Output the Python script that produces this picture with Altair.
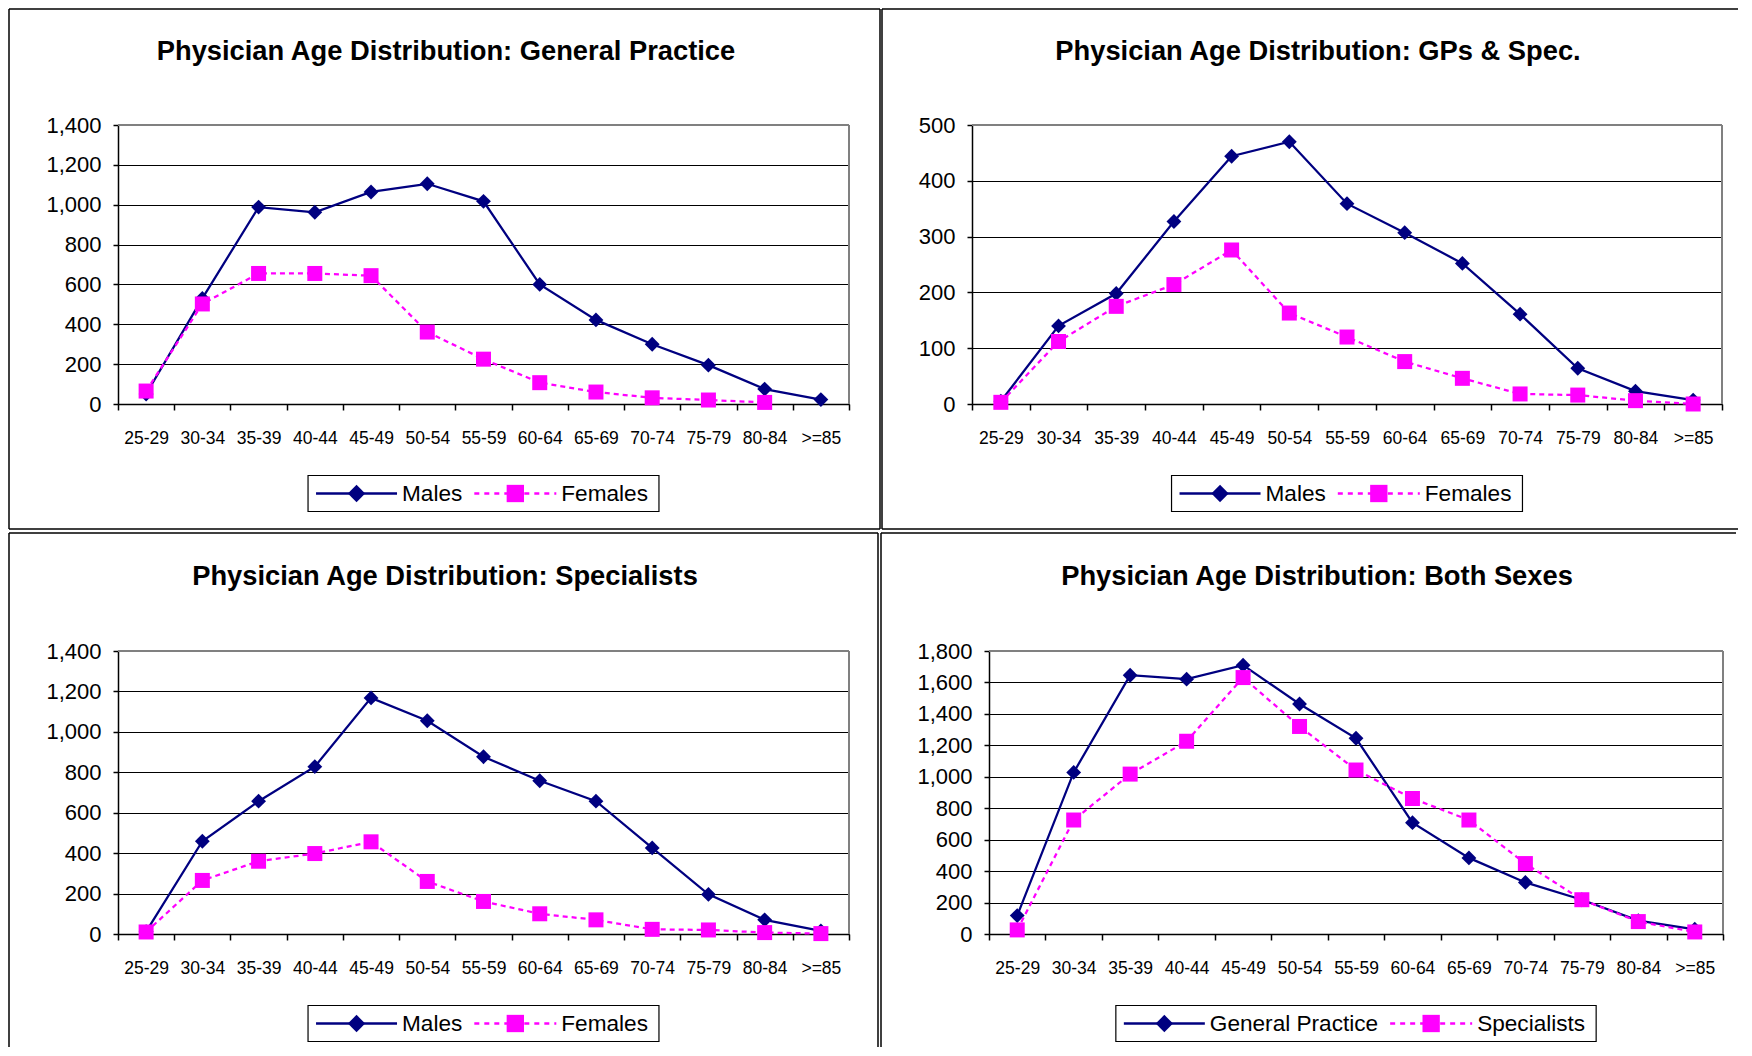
import altair as alt
import pandas as pd

# ---------------- data ----------------
AGES = ["25-29", "30-34", "35-39", "40-44", "45-49", "50-54", "55-59",
        "60-64", "65-69", "70-74", "75-79", "80-84", ">=85"]

TITLES = [
    "Physician Age Distribution: General Practice",
    "Physician Age Distribution: GPs & Spec.",
    "Physician Age Distribution: Specialists",
    "Physician Age Distribution: Both Sexes",
]
SEX_NAMES = ["Males", "Females"]
TYPE_NAMES = ["General Practice", "Specialists"]

gp_males = [50, 530, 988, 962, 1064, 1105, 1017, 600, 422, 300, 195, 75, 22]
gp_females = [65, 502, 655, 655, 644, 361, 225, 107, 60, 31, 20, 8, None]

both_males = [5, 140, 198, 327, 444, 470, 359, 307, 252, 161, 64, 23, 7]
both_females = [3, 112, 175, 214, 276, 163, 120, 76, 46, 18, 16, 6, 0]

spec_males = [12, 459, 657, 828, 1168, 1055, 877, 758, 657, 426, 196, 70, 15]
spec_females = [10, 265, 360, 398, 456, 260, 161, 100, 70, 23, 20, 7, 2]

all_gp = [117, 1028, 1646, 1621, 1710, 1463, 1245, 708, 484, 328, 218, 85, 30]
all_spec = [26, 725, 1017, 1226, 1631, 1320, 1043, 862, 725, 448, 218, 79, 13]

# ---------------- styling ----------------
NAVY = "#000080"
MAGENTA = "#FF00FF"
FONT = "Liberation Sans, Arial, sans-serif"
LEG_FS = 22.6

ARIAL_W = {"M": 833, "a": 556, "l": 222, "e": 556, "s": 500, "F": 611, "m": 833,
           "G": 778, "n": 556, "r": 333, " ": 278, "P": 667, "c": 500, "t": 278,
           "i": 222, "p": 556, "S": 667}


def text_w(s, size):
    return sum(ARIAL_W.get(ch, 556) for ch in s) / 1000.0 * size


def one(**kw):
    return pd.DataFrame({k: [v] for k, v in kw.items()} or {"k": [0]})


def panel(title, names, s1, s2, ymax, ystep, w, h, geo):
    df1 = pd.DataFrame({"age": AGES, "value": s1})
    df2 = pd.DataFrame({"age": AGES, "value": s2}).dropna()

    x = alt.X("age:N", sort=AGES, title=None,
              scale=alt.Scale(type="band", domain=AGES, paddingInner=0, paddingOuter=0),
              axis=alt.Axis(domainColor="black", domainWidth=1.5, tickColor="black",
                            tickWidth=1.5, tickSize=6, tickBand="extent",
                            labelFont=FONT, labelFontSize=17.5, labelColor="black",
                            labelBaseline="alphabetic", labelPadding=33, labelAngle=0,
                            labelOverlap=False, grid=False))
    y = alt.Y("value:Q", title=None,
              scale=alt.Scale(domain=[0, ymax], nice=False, zero=True),
              axis=alt.Axis(values=list(range(0, ymax + 1, ystep)), format=",d",
                            domainColor="black", domainWidth=1.5, tickColor="black",
                            tickWidth=1.5, tickSize=5, labelFont=FONT, labelFontSize=22,
                            labelColor="black", labelPadding=12, grid=True,
                            gridColor="black", gridWidth=1))

    layers = []
    # panel border (visible edges only)
    bl, br, bt, bb = geo["left"], geo.get("right"), geo["top"], geo.get("bottom")
    side_bottom = bb if bb is not None else geo["side_end"]
    top_x2 = br if br is not None else geo["top_end"]
    layers.append(alt.Chart(one()).mark_rule(color="black", strokeWidth=1.5).encode(
        x=alt.value(bl), y=alt.value(bt), y2=alt.value(side_bottom)))
    layers.append(alt.Chart(one()).mark_rule(color="black", strokeWidth=1.5).encode(
        x=alt.value(bl), x2=alt.value(top_x2), y=alt.value(bt)))
    if br is not None:
        layers.append(alt.Chart(one()).mark_rule(color="black", strokeWidth=1.5).encode(
            x=alt.value(br), y=alt.value(bt), y2=alt.value(side_bottom)))
    if bb is not None:
        layers.append(alt.Chart(one()).mark_rule(color="black", strokeWidth=1.5).encode(
            x=alt.value(bl), x2=alt.value(top_x2), y=alt.value(bb)))

    # title
    layers.append(alt.Chart(one(t=title)).mark_text(
        font=FONT, fontSize=27.3, fontWeight="bold", align="center",
        baseline="alphabetic", color="black").encode(
        x=alt.value(geo["tx"]), y=alt.value(geo["ty"]), text="t:N"))

    # data
    layers.append(alt.Chart(df1).mark_line(color=NAVY, strokeWidth=2.25).encode(x=x, y=y))
    layers.append(alt.Chart(df1).mark_point(shape="diamond", filled=True, size=220,
                                            color=NAVY, opacity=1).encode(x=x, y=y))
    layers.append(alt.Chart(df2).mark_line(color=MAGENTA, strokeWidth=2.25,
                                           strokeDash=[5, 4]).encode(x=x, y=y))
    layers.append(alt.Chart(df2).mark_point(shape="square", filled=True, size=225,
                                            color=MAGENTA, opacity=1).encode(x=x, y=y))

    # gray plot-area frame (top and right)
    layers.append(alt.Chart(one()).mark_rule(color="#808080", strokeWidth=2).encode(
        x=alt.value(0), x2=alt.value(w), y=alt.value(0)))
    layers.append(alt.Chart(one()).mark_rule(color="#808080", strokeWidth=2).encode(
        x=alt.value(w), y=alt.value(0), y2=alt.value(h)))

    # legend
    t1 = text_w(names[0], LEG_FS)
    t2 = text_w(names[1], LEG_FS)
    total = 8 + 81 + 5 + t1 + 12 + 82 + 5 + t2 + 11
    x0 = w / 2 - total / 2
    ly = h + 89.5
    layers.append(alt.Chart(one()).mark_rect(fill="white", stroke="black", strokeWidth=1.2).encode(
        x=alt.value(x0), x2=alt.value(x0 + total), y=alt.value(h + 71.5), y2=alt.value(h + 107.5)))
    layers.append(alt.Chart(one()).mark_rule(color=NAVY, strokeWidth=2.5).encode(
        x=alt.value(x0 + 8), x2=alt.value(x0 + 89), y=alt.value(ly)))
    layers.append(alt.Chart(one()).mark_point(shape="diamond", filled=True, size=300,
                                              color=NAVY, opacity=1).encode(
        x=alt.value(x0 + 48.5), y=alt.value(ly)))
    layers.append(alt.Chart(one(t=names[0])).mark_text(
        font=FONT, fontSize=LEG_FS, align="left", baseline="alphabetic", color="black").encode(
        x=alt.value(x0 + 94), y=alt.value(h + 97), text="t:N"))
    s = x0 + 94 + t1 + 12
    layers.append(alt.Chart(one()).mark_rule(color=MAGENTA, strokeWidth=2.5, strokeDash=[5, 5]).encode(
        x=alt.value(s), x2=alt.value(s + 82), y=alt.value(ly)))
    layers.append(alt.Chart(one()).mark_point(shape="square", filled=True, size=300,
                                              color=MAGENTA, opacity=1).encode(
        x=alt.value(s + 41), y=alt.value(ly)))
    layers.append(alt.Chart(one(t=names[1])).mark_text(
        font=FONT, fontSize=LEG_FS, align="left", baseline="alphabetic", color="black").encode(
        x=alt.value(s + 87), y=alt.value(h + 97), text="t:N"))

    return alt.layer(*layers).properties(width=w, height=h)


tl = panel(TITLES[0], SEX_NAMES, gp_males, gp_females, 1400, 200, 731, 279,
           dict(left=-109, right=762, top=-116, bottom=404, tx=328, ty=-65))
tr = panel(TITLES[1], SEX_NAMES, both_males, both_females, 500, 100, 750, 279,
           dict(left=-90, top=-116, bottom=404, top_end=766, tx=346, ty=-65))
bl = panel(TITLES[2], SEX_NAMES, spec_males, spec_females, 1400, 200, 731, 283,
           dict(left=-109, right=760, top=-118, side_end=396, tx=327, ty=-66))
br = panel(TITLES[3], TYPE_NAMES, all_gp, all_spec, 1800, 200, 734, 283,
           dict(left=-108, top=-118, side_end=396, top_end=747, tx=328, ty=-66))

chart = alt.vconcat(
    alt.hconcat(tl, tr, spacing=0),
    alt.hconcat(bl, br, spacing=1),
    spacing=2,
).configure_view(stroke=None).properties(padding=0, background="white")

chart.save("out.html", embed_options={"renderer": "svg", "actions": False})
